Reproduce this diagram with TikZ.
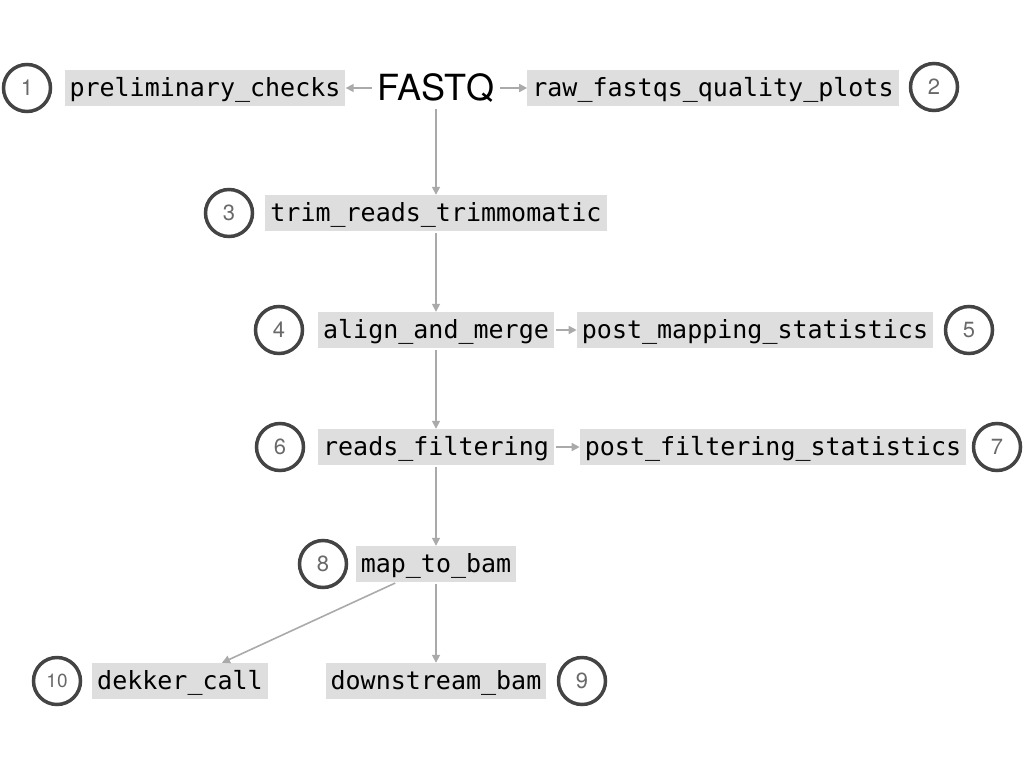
\documentclass[tikz,border=0pt]{standalone}
\usepackage{fontspec}
\setmonofont{DejaVu Sans Mono}
\newfontfamily\heros{TeX Gyre Heros}
\usetikzlibrary{arrows.meta}
\definecolor{boxgray}{HTML}{DEDEDE}
\definecolor{arrgray}{HTML}{AAAAAA}
\definecolor{ringgray}{HTML}{444444}
\tikzset{
  stepbox/.style={fill=boxgray, inner xsep=5pt, inner ysep=0pt, minimum height=36pt,
    font=\ttfamily\fontsize{25}{25}\selectfont, text height=21pt, text depth=5pt},
  numring/.style={circle, draw=ringgray, line width=3.5pt, minimum size=47pt, inner sep=0pt,
    font=\heros\fontsize{22}{22}\selectfont, text=ringgray!80},
  conn/.style={draw=arrgray, line width=1.6pt, -{Triangle[length=8pt,width=8pt]}, shorten <=2pt}
}
\begin{document}
\begin{tikzpicture}[x=1pt,y=-1pt]
\useasboundingbox (0,0) rectangle (1024,768);
% top row
\node[numring] (c1) at (27,88) {1};
\node[stepbox] (prelim) at (205,88) {preliminary\_checks};
\node[font=\heros\fontsize{36}{36}\selectfont, inner sep=4pt] (fastq) at (436,88) {FASTQ};
\node[stepbox] (raw) at (713,88) {raw\_fastqs\_quality\_plots};
\node[numring] (c2) at (934,87) {2};
% trim
\node[numring] (c3) at (229,213) {3};
\node[stepbox] (trim) at (436,213) {trim\_reads\_trimmomatic};
% align
\node[numring] (c4) at (279,330) {4};
\node[stepbox] (align) at (436,330) {align\_and\_merge};
\node[stepbox] (postmap) at (755,330) {post\_mapping\_statistics};
\node[numring] (c5) at (969,330) {5};
% filter
\node[numring] (c6) at (280,447) {6};
\node[stepbox] (filt) at (436,447) {reads\_filtering};
\node[stepbox] (postfilt) at (773,447) {post\_filtering\_statistics};
\node[numring] (c7) at (997,447) {7};
% map
\node[numring] (c8) at (323,564) {8};
\node[stepbox] (map) at (436,564) {map\_to\_bam};
% bottom
\node[numring, font=\heros\fontsize{19}{19}\selectfont] (c10) at (57,681) {10};
\node[stepbox] (dekker) at (180,681) {dekker\_call};
\node[stepbox] (down) at (436,681) {downstream\_bam};
\node[numring] (c9) at (582,681) {9};
% connectors
\draw[conn] (fastq.west) -- (prelim.east);
\draw[conn] (fastq.east) -- (raw.west);
\draw[conn] (fastq.south) -- (trim.north);
\draw[conn] (trim.south) -- (align.north);
\draw[conn] (align.east) -- (postmap.west);
\draw[conn] (align.south) -- (filt.north);
\draw[conn] (filt.east) -- (postfilt.west);
\draw[conn] (filt.south) -- (map.north);
\draw[conn] (map.south) -- (down.north);
\coordinate (mapl) at ([xshift=-39pt]map.south);
\coordinate (dekt) at ([xshift=42pt]dekker.north);
\draw[conn] (mapl) -- (dekt);
\end{tikzpicture}
\end{document}
